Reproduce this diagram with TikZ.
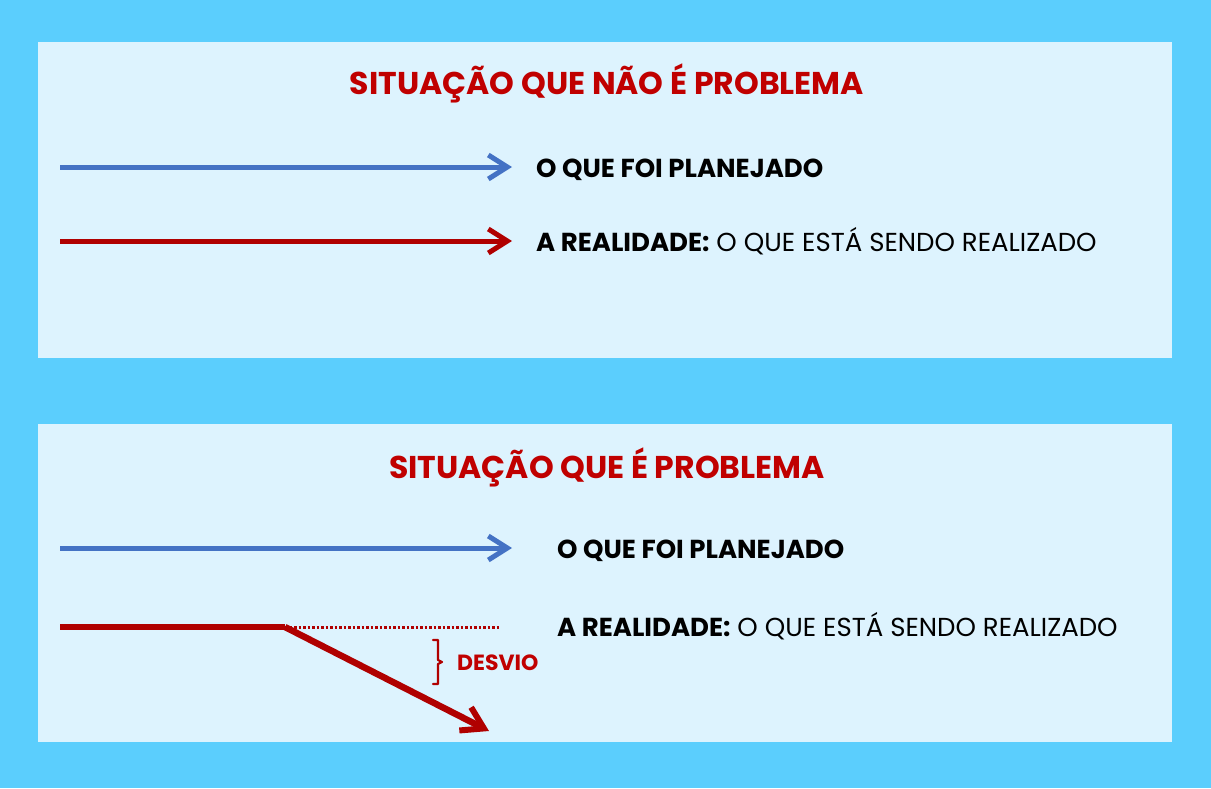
\documentclass[tikz,border=0pt]{standalone}
\usepackage{fontspec}
\setmainfont{Poppins}
\usetikzlibrary{arrows.meta}
\definecolor{bgblue}{HTML}{5BCEFD}
\definecolor{panel}{HTML}{DDF3FE}
\definecolor{arrblue}{HTML}{4472C4}
\definecolor{arrred}{HTML}{B00000}
\definecolor{titred}{HTML}{C00000}
\tikzset{
  panelbox/.style={fill=panel, draw=none},
  titletext/.style={anchor=base, font=\fontsize{31.5}{34}\selectfont\bfseries, text=titred, inner sep=0pt},
  labeltext/.style={anchor=base west, font=\fontsize{26}{30}\selectfont, text=black, inner sep=0pt},
  barbtip/.style={-{Straight Barb[length=19pt, width=24pt, line width=5pt]}},
  planarrow/.style={draw=arrblue, line width=5pt, barbtip},
  realarrow/.style={draw=arrred, line width=5pt, barbtip},
  realline/.style={draw=arrred, line width=5.5pt},
  dotline/.style={draw=arrred, line width=3pt, dash pattern=on 2.5pt off 2pt},
  desviotext/.style={anchor=base west, font=\fontsize{22}{26}\selectfont\bfseries, text=titred, inner sep=0pt},
}
\begin{document}
\begin{tikzpicture}[x=1pt, y=-1pt]
\fill[bgblue] (0,0) rectangle (1211,788);
\useasboundingbox (0,0) rectangle (1211,788);
\fill[panelbox] (38,42) rectangle (1172,358);
\fill[panelbox] (38,424) rectangle (1172,742);
% top panel
\node[titletext] (t1) at (607,94) {SITUAÇÃO QUE NÃO É PROBLEMA};
\coordinate (a1s) at (60,167);
\coordinate (a1e) at (512,167);
\draw[planarrow] (a1s) -- (a1e);
\node[labeltext] (l1) at (536,177) {\textbf{O QUE FOI PLANEJADO}};
\coordinate (a2s) at (60,241);
\coordinate (a2e) at (512,241);
\draw[realarrow] (a2s) -- (a2e);
\node[labeltext] (l2) at (536,251) {\textbf{A REALIDADE:} O QUE ESTÁ SENDO REALIZADO};
% bottom panel
\node[titletext] (t2) at (607,478) {SITUAÇÃO QUE É PROBLEMA};
\coordinate (b1s) at (60,548);
\coordinate (b1e) at (512,548);
\draw[planarrow] (b1s) -- (b1e);
\node[labeltext] (l3) at (557,558) {\textbf{O QUE FOI PLANEJADO}};
\node[labeltext] (l4) at (557,636) {\textbf{A REALIDADE:} O QUE ESTÁ SENDO REALIZADO};
\coordinate (b2s) at (60,627);
\coordinate (knee) at (285,627);
\coordinate (dend) at (500,627);
\coordinate (tip) at (489,731);
\draw[realline] (b2s) -- (knee);
\draw[dotline] (knee) -- (dend);
\draw[draw=arrred, line width=6.5pt, -{Straight Barb[length=21pt, width=26pt, line width=6pt]}] (knee) -- (tip);
\coordinate (br1) at (433,640);
\draw[arrred, line width=2.2pt, line join=round, line cap=round] (br1) -- ++(5,0) -- ++(0,20) -- ++(4,2) -- ++(-4,2) -- ++(0,20) -- ++(-5,0);
\node[desviotext] (dv) at (457,670) {DESVIO};
\end{tikzpicture}
\end{document}
